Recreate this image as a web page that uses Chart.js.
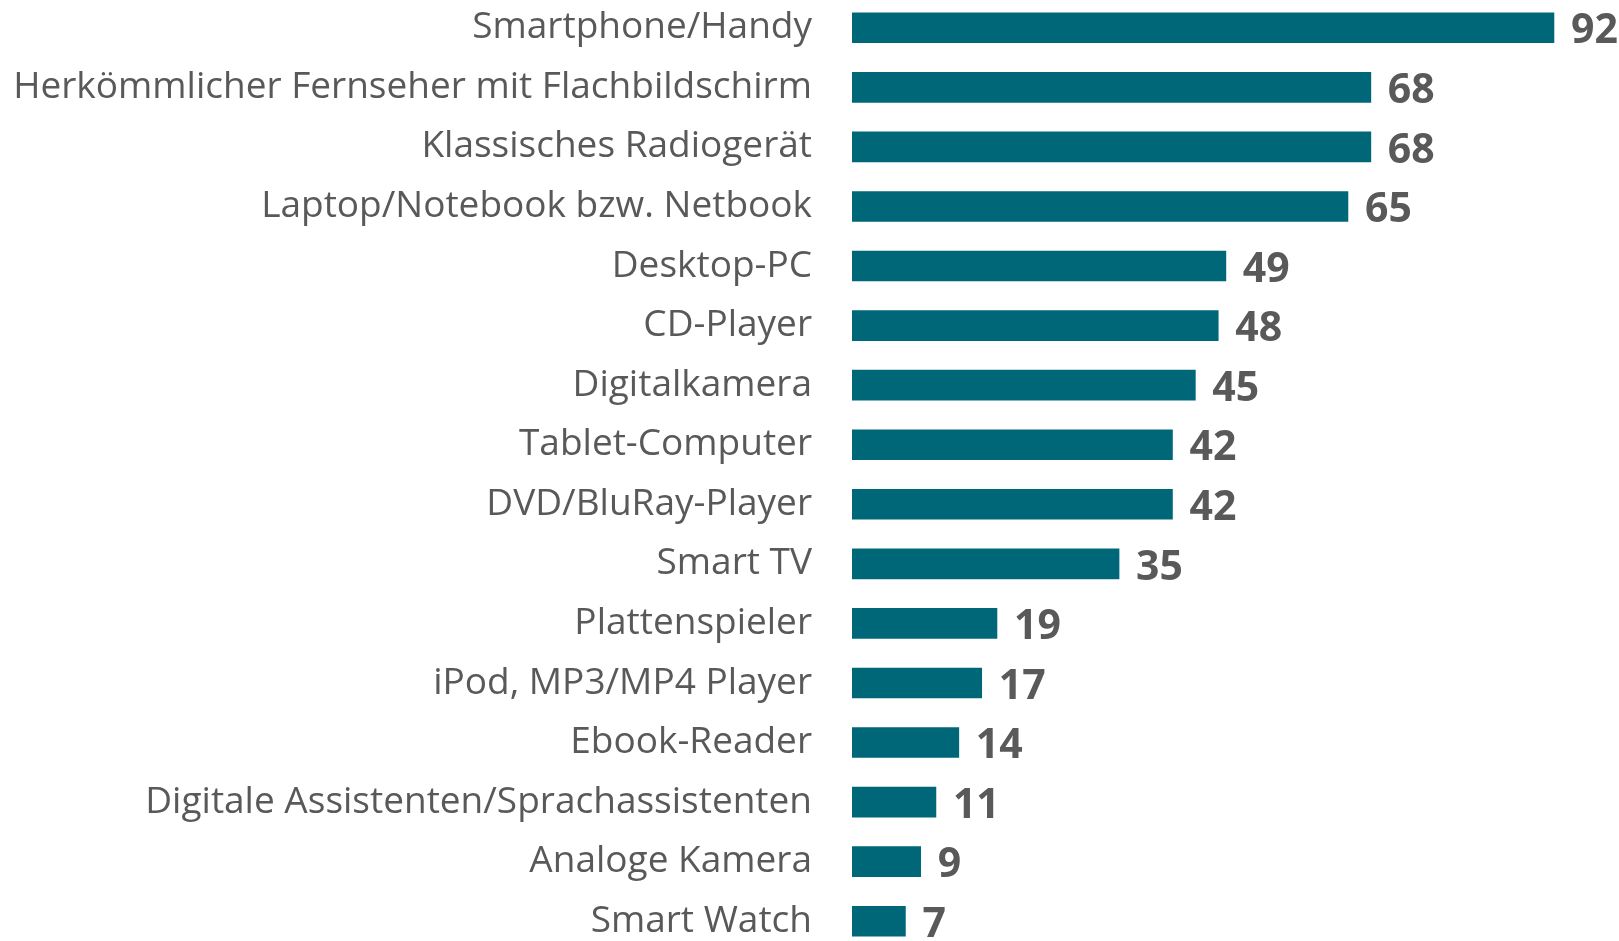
<!DOCTYPE html>
<html>
<head>
<meta charset="utf-8">
<script src="https://cdn.jsdelivr.net/npm/chart.js@4.4.1/dist/chart.umd.min.js"></script>
<style>
  html, body { margin: 0; padding: 0; background: #ffffff; overflow: hidden; }
  #wrap { position: absolute; left: 0; top: -2px; width: 1619px; height: 953px; }
</style>
</head>
<body>
<div id="wrap"><canvas id="devicesChart"></canvas></div>
<script>
const categories = [
  "Smartphone/Handy",
  "Herkömmlicher Fernseher mit Flachbildschirm",
  "Klassisches Radiogerät",
  "Laptop/Notebook bzw. Netbook",
  "Desktop-PC",
  "CD-Player",
  "Digitalkamera",
  "Tablet-Computer",
  "DVD/BluRay-Player",
  "Smart TV",
  "Plattenspieler",
  "iPod, MP3/MP4 Player",
  "Ebook-Reader",
  "Digitale Assistenten/Sprachassistenten",
  "Analoge Kamera",
  "Smart Watch"
];
const shares = [92, 68, 68, 65, 49, 48, 45, 42, 42, 35, 19, 17, 14, 11, 9, 7];

// draws the value next to each bar
const valueLabels = {
  id: "valueLabels",
  afterDatasetsDraw(chart) {
    const ctx = chart.ctx;
    const meta = chart.getDatasetMeta(0);
    ctx.save();
    ctx.font = "bold 41px 'Open Sans'";
    ctx.fillStyle = "#595959";
    ctx.textAlign = "left";
    ctx.textBaseline = "middle";
    meta.data.forEach((bar, i) => {
      ctx.fillText(String(shares[i]), bar.x + 17, bar.y + 4);
    });
    ctx.restore();
  },
};

const ctx = document.getElementById("devicesChart").getContext("2d");

const devicesChart = new Chart(ctx, {
  type: "bar",
  data: {
    labels: categories,
    datasets: [
      {
        data: shares,
        backgroundColor: "#006778",
        barThickness: 30,
      },
    ],
  },
  options: {
    indexAxis: "y",
    responsive: true,
    maintainAspectRatio: false,
    animation: false,
    layout: { padding: { top: 0, bottom: 0, left: 0, right: 4 } },
    scales: {
      x: {
        display: false,
        min: 0,
        max: 100,
      },
      y: {
        grid: { display: false, drawTicks: false },
        border: { display: false },
        ticks: {
          padding: 40,
          color: "#595959",
          font: { family: "'Open Sans'", size: 37 },
        },
        afterFit(scale) {
          scale.width = 852;
          // no extra room above/below the bars
          scale.paddingTop = 0;
          scale.paddingBottom = 0;
        },
      },
    },
    plugins: {
      legend: { display: false },
      tooltip: { enabled: false },
    },
  },
  plugins: [valueLabels],
});
</script>
</body>
</html>
